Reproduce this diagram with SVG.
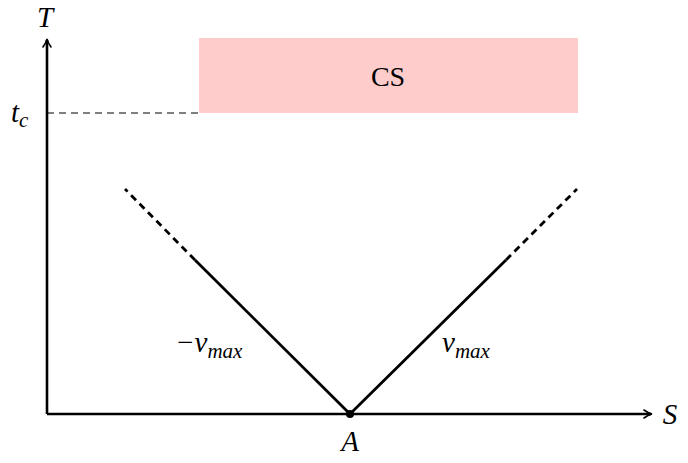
<svg xmlns="http://www.w3.org/2000/svg" width="688" height="463" viewBox="0 0 688 463">
<defs>
<style>
.m{font-family:"Liberation Serif","DejaVu Serif",serif;font-style:italic;font-size:29px;fill:#000}
.r{font-family:"Liberation Serif","DejaVu Serif",serif;font-size:28px;fill:#000}
.sub{font-size:21px}
.ax{stroke:#000;stroke-width:2.6;fill:none}
.ln{stroke:#000;stroke-width:2.8;fill:none}
.dl{stroke:#000;stroke-width:2.8;fill:none;stroke-dasharray:7 5}
</style>
<marker id="arr" viewBox="0 0 10 10" refX="8" refY="5" markerWidth="10" markerHeight="10" markerUnits="userSpaceOnUse" orient="auto">
<path d="M1,1 Q5,4 9,5 Q5,6 1,9" fill="none" stroke="#000" stroke-width="1.6" stroke-linecap="round"/>
</marker>
</defs>
<rect width="688" height="463" fill="#fff"/>
<g id="cs">
<rect x="199" y="38" width="379" height="75" fill="#ffcccc"/>
<text class="r" x="388" y="86" text-anchor="middle">CS</text>
</g>
<g id="connectors">
<line x1="47" y1="113" x2="199" y2="113" stroke="#555" stroke-width="1.3" stroke-dasharray="7 5"/>
<line class="ax" x1="47" y1="414" x2="47" y2="40" marker-end="url(#arr)"/>
<line class="ax" x1="47" y1="414" x2="651" y2="414" marker-end="url(#arr)"/>
<line class="ln" x1="350" y1="414" x2="506" y2="260"/>
<line class="dl" x1="506" y1="260" x2="577" y2="189"/>
<line class="ln" x1="350" y1="414" x2="195" y2="260"/>
<line class="dl" x1="195" y1="260" x2="125" y2="189"/>
</g>
<g id="axis-labels">
<text class="m" x="45" y="27" text-anchor="middle">T</text>
<text class="m" x="670" y="424" text-anchor="middle">S</text>
<text class="m" x="11" y="122">t<tspan class="sub" dy="5">c</tspan></text>
</g>
<g id="A">
<circle cx="350" cy="414" r="4" fill="#000"/>
<text class="m" x="350" y="451" text-anchor="middle">A</text>
</g>
<g id="labels">
<text class="m" x="175" y="352">−v<tspan class="sub" dy="6">max</tspan></text>
<text class="m" x="442" y="352">v<tspan class="sub" dy="6">max</tspan></text>
</g>
</svg>
